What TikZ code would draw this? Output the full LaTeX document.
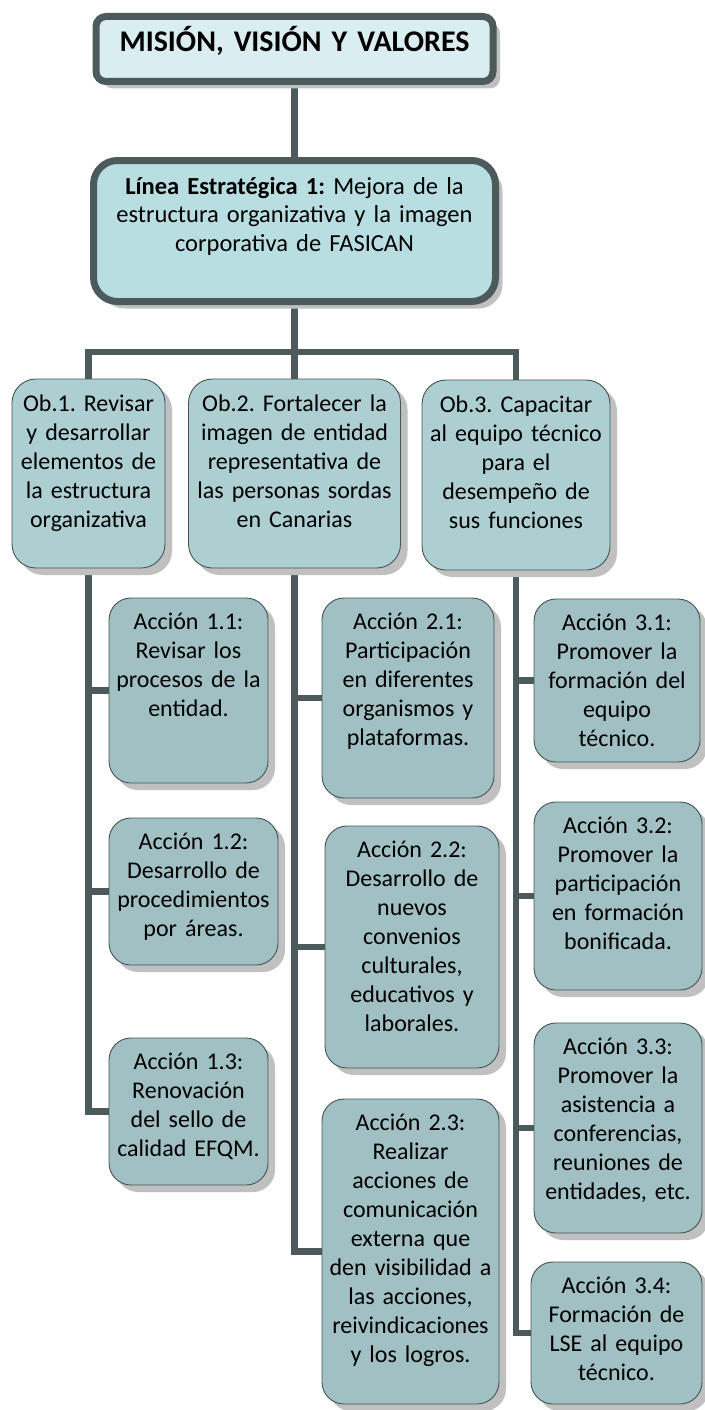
\documentclass[tikz,border=0pt]{standalone}
\usepackage{fontspec}
\setmainfont{Carlito}
\frenchspacing
\usetikzlibrary{shadows,calc,backgrounds}
\definecolor{dk}{RGB}{76,90,92}
\definecolor{bd}{RGB}{70,82,84}
\definecolor{shgray}{RGB}{192,192,192}
\definecolor{topfill}{RGB}{218,237,240}
\definecolor{lefill}{RGB}{184,222,226}
\definecolor{obfill}{RGB}{173,207,210}
\definecolor{acfill}{RGB}{161,192,195}
\tikzset{
  conn/.style={draw=dk, line width=6.5pt, line join=miter},
  shad/.style={drop shadow={shadow xshift=7pt, shadow yshift=-7pt, opacity=1, fill=shgray}},
  topbox/.style={draw=dk, line width=7pt, fill=topfill, rounded corners=10pt, shad},
  lebox/.style={draw=dk, line width=7pt, fill=lefill, rounded corners=24pt, shad},
  obbox/.style={draw=bd, line width=0.9pt, fill=obfill, rounded corners=24pt, shad},
  acbox/.style={draw=bd, line width=0.9pt, fill=acfill, rounded corners=22pt, shad},
  txt/.style={inner sep=0pt, outer sep=0pt, align=center, text=black, font=\fontsize{24}{29}\selectfont\frenchspacing},
}
% #1 name, #2 box style, #3 text options, #4 x1, #5 y1, #6 x2, #7 y2, #8 baseline offset, #9 text
\newcommand\mybox[9]{%
  \pgfmathsetmacro\bw{#6-#4}\pgfmathsetmacro\bh{#7-#5}%
  \node[#2, minimum width=\bw pt, minimum height=\bh pt, inner sep=0pt, outer sep=0pt, anchor=north west] (#1) at (#4,#5) {};
  \node[txt, #3, text width=\bw pt, anchor=base] (#1t) at ($(#1.north)+(0,#8)$) {#9};
}
\begin{document}
\begin{tikzpicture}[x=1pt, y=-1pt]
\useasboundingbox (0,0) rectangle (704,1410);

\mybox{top}{topbox}{font=\fontsize{30}{36}\selectfont\bfseries\frenchspacing}{96}{16.5}{493}{81.5}{35.5}{MISIÓN, VISIÓN Y VALORES}
\mybox{le}{lebox}{font=\fontsize{24.5}{28.5}\selectfont\frenchspacing}{93.5}{160.5}{495.5}{301.5}{33.5}{\textbf{Línea Estratégica 1:} Mejora de la\\estructura organizativa y la imagen\\corporativa de FASICAN}

\mybox{ob1}{obbox}{}{12}{379}{165}{568}{32}{Ob.1. Revisar\\y desarrollar\\elementos de\\la estructura\\organizativa}
\mybox{ob2}{obbox}{}{188.5}{379}{400.5}{568}{32}{Ob.2. Fortalecer la\\imagen de entidad\\representativa de\\las personas sordas\\en Canarias}
\mybox{ob3}{obbox}{}{422}{380}{610}{570}{32}{Ob.3. Capacitar\\al equipo técnico\\para el\\desempeño de\\sus funciones}

\mybox{a11}{acbox}{}{109}{598}{268}{783}{31.5}{Acción 1.1:\\Revisar los\\procesos de la\\entidad.}
\mybox{a12}{acbox}{}{109}{818}{278}{965}{31.5}{Acción 1.2:\\Desarrollo de\\procedimientos\\por áreas.}
\mybox{a13}{acbox}{}{109}{1038}{268}{1185}{31.5}{Acción 1.3:\\Renovación\\del sello de\\calidad EFQM.}

\mybox{a21}{acbox}{}{322}{598}{494}{798}{31.5}{Acción 2.1:\\Participación\\en diferentes\\organismos y\\plataformas.}
\mybox{a22}{acbox}{}{325}{826}{499}{1068}{31.5}{Acción 2.2:\\Desarrollo de\\nuevos\\convenios\\culturales,\\educativos y\\laborales.}
\mybox{a23}{acbox}{}{322}{1099}{499}{1404}{31.5}{Acción 2.3:\\Realizar\\acciones de\\comunicación\\externa que\\den visibilidad a\\las acciones,\\reivindicaciones\\y los logros.}

\mybox{a31}{acbox}{}{534}{599}{700}{762}{31.5}{Acción 3.1:\\Promover la\\formación del\\equipo\\técnico.}
\mybox{a32}{acbox}{}{534}{802}{702}{990}{31.5}{Acción 3.2:\\Promover la\\participación\\en formación\\bonificada.}
\mybox{a33}{acbox}{}{534}{1023}{702}{1233}{31.5}{Acción 3.3:\\Promover la\\asistencia a\\conferencias,\\reuniones de\\entidades, etc.}
\mybox{a34}{acbox}{}{531}{1262}{702}{1404}{31.5}{Acción 3.4:\\Formación de\\LSE al equipo\\técnico.}

\begin{pgfonlayer}{background}
  \draw[conn] (top.south) -- (le.north);
  \coordinate (bar) at ($(le.south)+(0,50.5)$);
  \draw[conn] (le.south) -- (bar);
  \draw[conn] (ob1.north) |- (bar) -| (ob3.north);
  \draw[conn] (bar) -- (ob2.north);
  \draw[conn] (ob1.south) |- (a13.west);
  \draw[conn] (ob1.south |- a11.west) -- (a11.west);
  \draw[conn] (ob1.south |- a12.west) -- (a12.west);
  \draw[conn] (ob2.south) |- (a23.west);
  \draw[conn] (ob2.south |- a21.west) -- (a21.west);
  \draw[conn] (ob2.south |- a22.west) -- (a22.west);
  \draw[conn] (ob3.south) |- (a34.west);
  \draw[conn] (ob3.south |- a31.west) -- (a31.west);
  \draw[conn] (ob3.south |- a32.west) -- (a32.west);
  \draw[conn] (ob3.south |- a33.west) -- (a33.west);
\end{pgfonlayer}
\end{tikzpicture}
\end{document}
